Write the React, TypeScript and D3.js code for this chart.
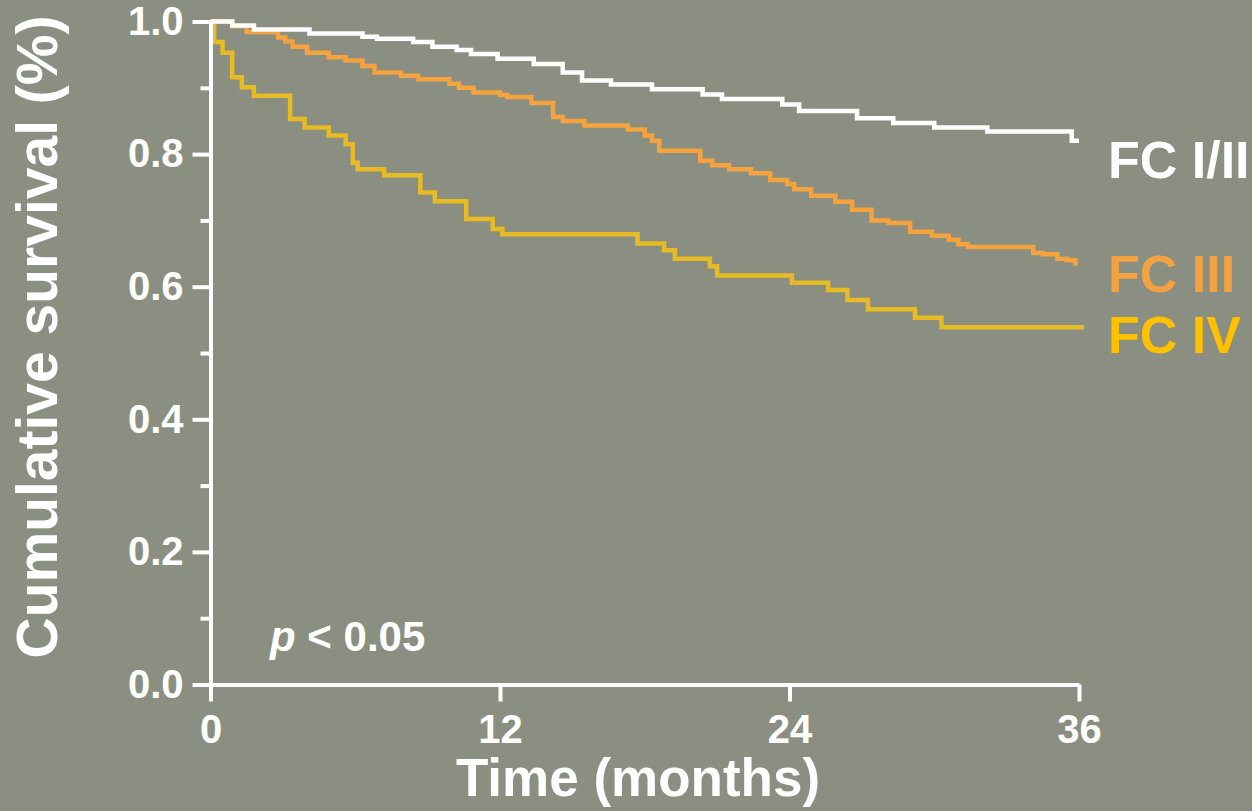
import React, { useEffect, useRef } from 'react'
import * as d3 from 'd3'

// Kaplan-Meier steps: [month, cumulative survival]
const fcI_II: [number, number][] = [
    [0, 1.0], [0.9, 0.994], [1.8, 0.988], [4.1, 0.982], [6.3, 0.977], [6.9, 0.974],
    [8.4, 0.969], [9.2, 0.962], [10.2, 0.957], [10.8, 0.951], [11.9, 0.944], [13.4, 0.936],
    [14.6, 0.923], [15.4, 0.911], [16.6, 0.905], [18.3, 0.898], [20.4, 0.89], [21.2, 0.883],
    [23.7, 0.875], [24.4, 0.865], [26.8, 0.854], [28.3, 0.847], [30.0, 0.84], [32.2, 0.834],
    [35.7, 0.82], [36.0, 0.82],
]
const fcIII: [number, number][] = [
    [0, 1.0], [0.9, 0.993], [1.5, 0.984], [2.8, 0.976], [3.1, 0.97], [3.4, 0.962],
    [4.0, 0.953], [4.9, 0.946], [5.6, 0.941], [6.3, 0.933], [6.8, 0.923], [7.9, 0.918],
    [8.6, 0.913], [9.9, 0.906], [10.3, 0.9], [10.9, 0.893], [12.0, 0.889], [12.3, 0.886],
    [13.3, 0.877], [14.2, 0.856], [14.6, 0.85], [15.5, 0.843], [17.3, 0.837], [18.0, 0.828],
    [18.3, 0.82], [18.6, 0.805], [20.3, 0.79], [20.8, 0.783], [21.5, 0.777], [22.4, 0.771],
    [23.2, 0.761], [23.9, 0.755], [24.2, 0.747], [24.9, 0.737], [25.9, 0.728], [26.6, 0.716],
    [27.4, 0.7], [28.1, 0.696], [29.0, 0.683], [29.9, 0.677], [30.6, 0.671], [31.0, 0.664],
    [31.4, 0.66], [34.1, 0.651], [34.5, 0.649], [35.1, 0.642], [35.5, 0.64], [35.85, 0.635],
    [35.95, 0.635],
]
const fcIV: [number, number][] = [
    [0, 1.0], [0.15, 0.969], [0.5, 0.953], [0.9, 0.916], [1.3, 0.901], [1.8, 0.888],
    [3.3, 0.853], [3.9, 0.84], [4.9, 0.828], [5.6, 0.815], [5.9, 0.787], [6.1, 0.777],
    [7.2, 0.768], [8.7, 0.742], [9.3, 0.729], [10.6, 0.702], [11.7, 0.687], [12.1, 0.679],
    [17.7, 0.665], [18.8, 0.655], [19.25, 0.642], [20.7, 0.631], [21.0, 0.617], [24.1, 0.606],
    [25.6, 0.595], [26.4, 0.58], [27.25, 0.566], [29.2, 0.553], [30.3, 0.539], [36.2, 0.539],
]

const seriesNames = ['FC I/II', 'FC III', 'FC IV']
const lineColors = ['#ffffff', '#f4a33f', '#e7bb24']
const labelColors = ['#ffffff', '#f2a241', '#ffc000']
const xTicks = [0, 12, 24, 36]
const yTicks = [0, 0.2, 0.4, 0.6, 0.8, 1.0]
const yMinorTicks = [0.1, 0.3, 0.5, 0.7, 0.9]

const W = 1252
const H = 811
const FONT = '"Liberation Sans", Arial, sans-serif'

export default function App() {
    const ref = useRef<SVGSVGElement>(null)

    useEffect(() => {
        const svg = d3.select(ref.current)
        svg.selectAll('*').remove()

        const x = d3.scaleLinear().domain([0, 36]).range([210.5, 1079])
        const y = d3.scaleLinear().domain([0, 1]).range([684.5, 21.5])

        svg.append('rect').attr('width', W).attr('height', H).attr('fill', '#8b8f81')

        // curves
        const line = d3.line<[number, number]>()
            .curve(d3.curveStepAfter)
            .x(d => x(d[0]))
            .y(d => y(d[1]))

        const all = [fcI_II, fcIII, fcIV]
        // draw yellow first, white on top like the reference
        ;[2, 1, 0].forEach(i => {
            svg.append('path')
                .datum(all[i])
                .attr('fill', 'none')
                .attr('stroke', lineColors[i])
                .attr('stroke-width', 4.5)
                .attr('d', line)
        })

        // minor y ticks
        const minor = svg.append('g')
            .attr('transform', 'translate(' + x(0) + ',0)')
            .call(d3.axisLeft(y).tickValues(yMinorTicks).tickSize(10).tickSizeOuter(0).tickFormat(() => ''))
        minor.select('.domain').remove()

        // y axis
        const ya = svg.append('g')
            .attr('transform', 'translate(' + x(0) + ',0)')
            .call(d3.axisLeft(y).tickValues(yTicks).tickSize(18).tickSizeOuter(0)
                .tickPadding(9).tickFormat(d3.format('.1f')))

        // x axis
        const xa = svg.append('g')
            .attr('transform', 'translate(0,' + y(0) + ')')
            .call(d3.axisBottom(x).tickValues(xTicks).tickSize(17).tickSizeOuter(0).tickPadding(13))

        ;[minor, ya, xa].forEach(g => {
            g.selectAll('path, line').attr('stroke', '#fff').attr('stroke-width', 4)
            g.selectAll('text')
                .attr('fill', '#fff')
                .style('font-family', FONT)
                .style('font-size', '40px')
                .style('font-weight', 'bold')
        })

        // axis titles
        svg.append('text')
            .attr('x', 638)
            .attr('y', 796)
            .attr('text-anchor', 'middle')
            .attr('fill', '#fff')
            .style('font-family', FONT)
            .style('font-size', '53px')
            .style('font-weight', 'bold')
            .text('Time (months)')

        svg.append('text')
            .attr('transform', 'translate(57,337) rotate(-90)')
            .attr('text-anchor', 'middle')
            .attr('fill', '#fff')
            .style('font-family', FONT)
            .style('font-size', '57px')
            .style('font-weight', 'bold')
            .text('Cumulative survival (%)')

        // p value
        const p = svg.append('text')
            .attr('x', 270)
            .attr('y', 651)
            .attr('fill', '#fff')
            .style('font-family', FONT)
            .style('font-size', '42px')
            .style('font-weight', 'bold')
        p.append('tspan').style('font-style', 'italic').text('p')
        p.append('tspan').text(' < 0.05')

        // series labels
        const labelY = [178, 292, 353]
        seriesNames.forEach((name, i) => {
            svg.append('text')
                .attr('x', 1108)
                .attr('y', labelY[i])
                .attr('fill', labelColors[i])
                .style('font-family', FONT)
                .style('font-size', '52px')
                .style('font-weight', 'bold')
                .text(name)
        })
    }, [])

    return (
        <svg ref={ref} width={W} height={H}
            style={{ position: 'absolute', left: 0, top: 0, display: 'block' }} />
    )
}
